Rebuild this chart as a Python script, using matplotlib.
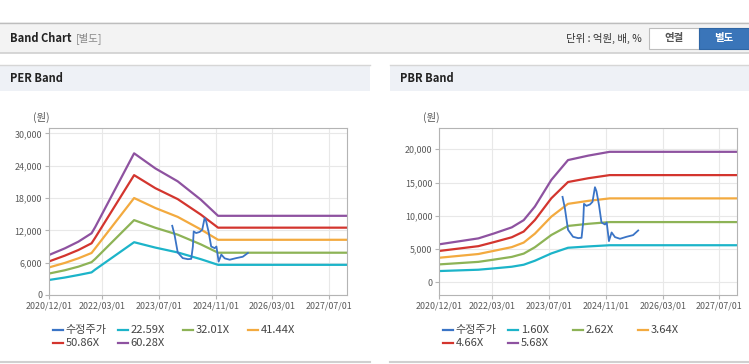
import matplotlib
matplotlib.use("Agg")
import matplotlib.pyplot as plt
import matplotlib.dates as mdates
from matplotlib.lines import Line2D
from matplotlib.patches import Rectangle
from matplotlib.ticker import FuncFormatter
import pandas as pd

plt.rcParams["font.family"] = ["Noto Sans CJK KR", "DejaVu Sans"]

W, H = 749, 364

# adjusted share price (same series on both charts)
price_dates = [
    "2023-10-24", "2023-11-13", "2023-12-10", "2024-01-22", "2024-03-06", "2024-04-04",
    "2024-04-18", "2024-04-25", "2024-05-16", "2024-06-15", "2024-07-07", "2024-07-28",
    "2024-08-10", "2024-09-01", "2024-09-22", "2024-10-22", "2024-11-06", "2024-11-25",
    "2024-12-18", "2025-01-16", "2025-02-28", "2025-04-25", "2025-06-20", "2025-08-03",
]
price_values = [
    12850, 11150, 7900, 6850, 6650, 6700,
    9000, 11800, 11500, 11700, 12100, 14300,
    13700, 11600, 9000, 8700, 9000, 6200,
    7500, 6800, 6550, 6850, 7100, 7800,
]

# PER band
per_dates = [
    "2020-12-01", "2021-04-15", "2021-08-10", "2021-12-01", "2022-01-01", "2022-12-01",
    "2023-06-01", "2023-12-10", "2024-06-25", "2024-11-20", "2027-12-01",
]
per_labels = ["22.59X", "32.01X", "41.44X", "50.86X", "60.28X"]
per_2259 = [2790, 3240, 3710, 4200, 4720, 9800, 8800, 7900, 6650, 5600, 5600]
per_3201 = [3980, 4590, 5260, 6100, 6690, 13900, 12480, 11200, 9400, 7850, 7850]
per_4144 = [5120, 5950, 6810, 7800, 8660, 18000, 16150, 14500, 12170, 10250, 10250]
per_5086 = [6230, 7300, 8350, 9600, 10630, 22250, 19830, 17800, 14930, 12500, 12500]
per_6028 = [7430, 8650, 9900, 11460, 12600, 26300, 23500, 21100, 17700, 14700, 14700]

# PBR band
pbr_dates = [
    "2020-12-01", "2021-11-01", "2022-03-15", "2022-08-15", "2022-11-25", "2023-03-01",
    "2023-07-20", "2023-12-10", "2024-06-01", "2024-12-01", "2027-12-01",
]
pbr_labels = ["1.60X", "2.62X", "3.64X", "4.66X", "5.68X"]
pbr_160 = [1700, 1900, 2100, 2350, 2650, 3250, 4350, 5200, 5400, 5580, 5580]
pbr_262 = [2700, 3080, 3420, 3830, 4320, 5280, 7120, 8480, 8800, 9060, 9060]
pbr_364 = [3700, 4260, 4740, 5300, 5980, 7320, 9880, 11800, 12250, 12620, 12620]
pbr_466 = [4720, 5440, 6050, 6780, 7640, 9370, 12640, 15080, 15650, 16120, 16120]
pbr_568 = [5720, 6610, 7350, 8270, 9350, 11400, 15400, 18380, 19050, 19620, 19620]

date_ticks = ["2020-12-01", "2022-03-01", "2023-07-01", "2024-11-01", "2026-03-01", "2027-07-01"]
per_yticks = [0, 6000, 12000, 18000, 24000, 30000]
pbr_yticks = [0, 5000, 10000, 15000, 20000]

price_label = "수정주가"
price_color = "#3a74c6"
band_colors = ["#1cb4c9", "#8db356", "#f3aa3f", "#d3352e", "#8e52a0"]


def px_rect(fig, x0, y0, x1, y1, **kw):
    fig.patches.append(Rectangle((x0 / W, 1 - y1 / H), (x1 - x0) / W, (y1 - y0) / H,
                                 transform=fig.transFigure, figure=fig, **kw))


def px_hline(fig, x0, x1, y, color, lw=1.0):
    fig.add_artist(Line2D([x0 / W, x1 / W], [1 - y / H, 1 - y / H],
                          transform=fig.transFigure, color=color, lw=lw))


def px_text(fig, x, y, s, **kw):
    kw.setdefault("va", "center")
    fig.text(x / W, 1 - y / H, s, **kw)


def draw_band(ax, band_dates, bands, yticks, ylim):
    for vals, c in zip(bands, band_colors):
        ax.plot(pd.to_datetime(band_dates), vals, color=c, lw=1.6)
    ax.plot(pd.to_datetime(price_dates), price_values, color=price_color, lw=1.3)
    ax.set_xlim(pd.Timestamp("2020-12-01"), pd.Timestamp("2027-12-01"))
    ax.set_ylim(*ylim)
    ax.set_xticks(pd.to_datetime(date_ticks))
    ax.xaxis.set_major_formatter(mdates.DateFormatter("%Y/%m/%d"))
    ax.set_yticks(yticks)
    ax.yaxis.set_major_formatter(FuncFormatter(lambda v, p: f"{int(v):,}"))
    ax.grid(color="#e8e8e8", lw=0.8)
    ax.set_axisbelow(True)
    for s in ax.spines.values():
        s.set_color("#b4b4b4")
    ax.tick_params(colors="#b4b4b4", labelcolor="#5a5a5a", labelsize=6.4,
                   length=3, width=0.8, pad=2)


def draw_legend(fig, x0, labels, colors):
    for i, (lab, c) in enumerate(zip(labels, colors)):
        x = x0 + 65 * (i % 4)
        y = 330 + 13 * (i // 4)
        px_hline(fig, x, x + 10.5, y, c, lw=1.6)
        px_text(fig, x + 13, y, lab, fontsize=8, color="#444444")


fig = plt.figure(figsize=(W / 100, H / 100), dpi=100)
fig.patch.set_facecolor("white")

# header bar
px_rect(fig, 0, 22.5, W, 52.5, facecolor="#f3f3f3", edgecolor="none")
px_hline(fig, 0, W, 22.5, "#bdbdbd", lw=1.0)
px_hline(fig, 0, W, 53, "#cfcfcf", lw=1.2)
px_text(fig, 10, 38.5, "Band Chart", fontsize=8, fontweight="bold", color="#222222")
px_text(fig, 76, 38.5, "[별도]", fontsize=7.5, color="#888888")
px_text(fig, 642, 38.5, "단위 : 억원, 배, %", fontsize=7.5, color="#333333", ha="right")
px_rect(fig, 649, 28.5, 699, 48.5, facecolor="white", edgecolor="#bdbdbd", lw=0.8)
px_text(fig, 674, 38.5, "연결", fontsize=7.5, fontweight="bold", color="#555555", ha="center")
px_rect(fig, 699, 28.5, 749, 48.5, facecolor="#3a75b9", edgecolor="#2f66a5", lw=0.8)
px_text(fig, 724, 38.5, "별도", fontsize=7.5, fontweight="bold", color="white", ha="center")

# panel headers and bottoms
for x0, x1, title in [(0, 370, "PER Band"), (390, W, "PBR Band")]:
    px_rect(fig, x0, 64.5, x1, 91, facecolor="#eef1f6", edgecolor="none")
    px_hline(fig, x0, x1, 64.5, "#d6d6d6", lw=1.0)
    px_hline(fig, x0, x1, 362, "#d0d0d0", lw=1.5)
    px_text(fig, x0 + 10, 79, title, fontsize=8, fontweight="bold", color="#222222")

ax1 = fig.add_axes([49 / W, 1 - 295 / H, 298 / W, 167 / H])
draw_band(ax1, per_dates, [per_2259, per_3201, per_4144, per_5086, per_6028],
          per_yticks, (0, 31000))
px_text(fig, 33, 117, "(원)", fontsize=7.5, color="#555555")
draw_legend(fig, 52.7, [price_label] + per_labels, [price_color] + band_colors)

ax2 = fig.add_axes([439.3 / W, 1 - 295 / H, 298 / W, 167 / H])
draw_band(ax2, pbr_dates, [pbr_160, pbr_262, pbr_364, pbr_466, pbr_568],
          pbr_yticks, (-1900, 23200))
px_text(fig, 423, 117, "(원)", fontsize=7.5, color="#555555")
draw_legend(fig, 442.7, [price_label] + pbr_labels, [price_color] + band_colors)

fig.savefig("out.png", dpi=100)
